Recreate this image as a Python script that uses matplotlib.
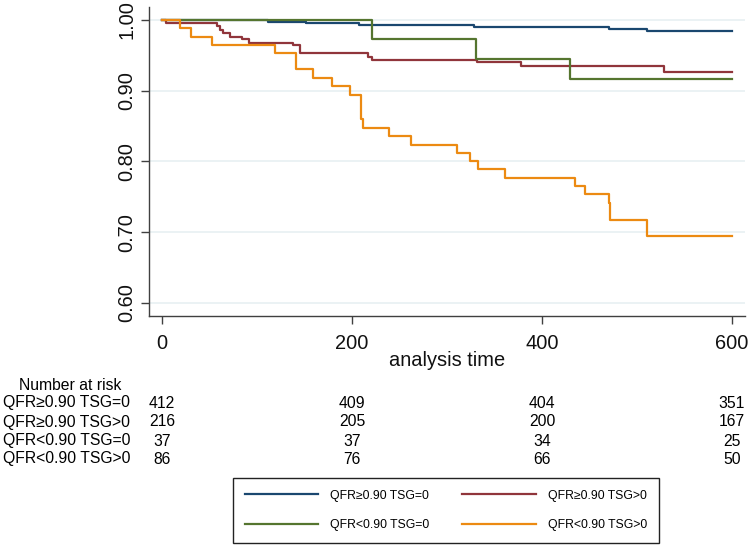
import numpy as np
import matplotlib.pyplot as plt
import matplotlib.transforms as mtransforms

plt.rcParams['font.family'] = ['Liberation Sans', 'DejaVu Sans']

labels = ["QFR\u22650.90 TSG=0", "QFR\u22650.90 TSG>0", "QFR<0.90 TSG=0", "QFR<0.90 TSG>0"]
colors = ["#1a476f", "#90353b", "#55752f", "#ec8a12"]

# KM step curves (time, survival)
blue_t = [0, 112, 152, 207, 328, 471, 511, 600]
blue_s = [1.000, 0.997, 0.995, 0.9925, 0.990, 0.987, 0.985, 0.985]

red_t = [0, 4, 58, 61, 64, 72, 84, 92, 138, 145, 217, 221, 332, 378, 528, 600]
red_s = [1.0, 0.995, 0.9915, 0.986, 0.982, 0.9765, 0.973, 0.968, 0.964, 0.954,
         0.9475, 0.944, 0.940, 0.935, 0.926, 0.926]

green_t = [0, 221, 331, 430, 600]
green_s = [1.0, 0.973, 0.945, 0.917, 0.917]

orange_t = [0, 19, 31, 53, 119, 141, 159, 179, 198, 209, 212, 239, 262, 311, 324,
            333, 361, 435, 445, 471, 472, 511, 600]
orange_s = [1.0, 0.988, 0.9765, 0.965, 0.9535, 0.930, 0.918, 0.9065, 0.894, 0.8605,
            0.848, 0.836, 0.824, 0.812, 0.801, 0.789, 0.777, 0.765, 0.754, 0.742,
            0.718, 0.695, 0.695]

# number at risk table
risk_times = [0, 200, 400, 600]
risk = [[412, 409, 404, 351],
        [216, 205, 200, 167],
        [37, 37, 34, 25],
        [86, 76, 66, 50]]

W, H = 749, 545
f = plt.figure(figsize=(W / 100, H / 100), dpi=100)
ax = f.add_axes([149 / W, 1 - 316 / H, (745 - 149) / W, (316 - 7) / H])

curves = [(blue_t, blue_s), (red_t, red_s), (green_t, green_s), (orange_t, orange_s)]
handles = []
for (t, s), c, lab in zip(curves, colors, labels):
    h, = ax.step(t, s, where="post", color=c, lw=1.6, label=lab)
    handles.append(h)

ax.set_xlim(-13.7, 613.7)
ax.set_ylim(0.5817, 1.0183)
ax.set_xticks(risk_times)
yt = [0.6, 0.7, 0.8, 0.9, 1.0]
ax.set_yticks(yt, labels=["%.2f" % v for v in yt])
for v in yt:
    ax.axhline(v, color="#e8f0f2", lw=1.2, zorder=0)

ax.spines['top'].set_visible(False)
ax.spines['right'].set_visible(False)
for sp in ['left', 'bottom']:
    ax.spines[sp].set_color("#404040")
    ax.spines[sp].set_linewidth(1.0)
ax.tick_params(axis='both', length=6, width=1.0, color="#404040", labelsize=14.4,
               labelcolor="#111111")
ax.tick_params(axis='x', pad=7)
ax.tick_params(axis='y', pad=3)
for lbl in ax.get_yticklabels():
    lbl.set_rotation(90)
    lbl.set_va('center')

ax.set_xlabel("analysis time", fontsize=14.4, color="#111111")
ax.xaxis.set_label_coords(0.5, -0.113)

# risk table: x in data coords, y in figure coords
trans = mtransforms.blended_transform_factory(ax.transData, f.transFigure)
f.text(19 / W, 1 - 386 / H, "Number at risk", fontsize=11.3, va='center', ha='left')
row_y = [403, 422, 441, 459]
for lab, row, yp in zip(labels, risk, row_y):
    f.text(3 / W, 1 - yp / H, lab, fontsize=11.3, va='center', ha='left')
    for t, n in zip(risk_times, row):
        ax.text(t, 1 - yp / H, str(n), transform=trans, fontsize=11.3,
                va='center', ha='center', clip_on=False)

# legend filled column-wise: order so rows read blue/red, green/orange
order = [0, 2, 1, 3]
leg = f.legend([handles[i] for i in order], [labels[i] for i in order],
               loc='upper left', bbox_to_anchor=(233 / W, 1 - 478 / H), ncol=2,
               fontsize=8.8, handlelength=6.0, handletextpad=1.0, columnspacing=2.7,
               labelspacing=1.45, borderpad=0.95, borderaxespad=0,
               fancybox=False, framealpha=1)
leg.get_frame().set_edgecolor("#222222")
leg.get_frame().set_linewidth(1.0)

plt.savefig("out.png", dpi=100)
